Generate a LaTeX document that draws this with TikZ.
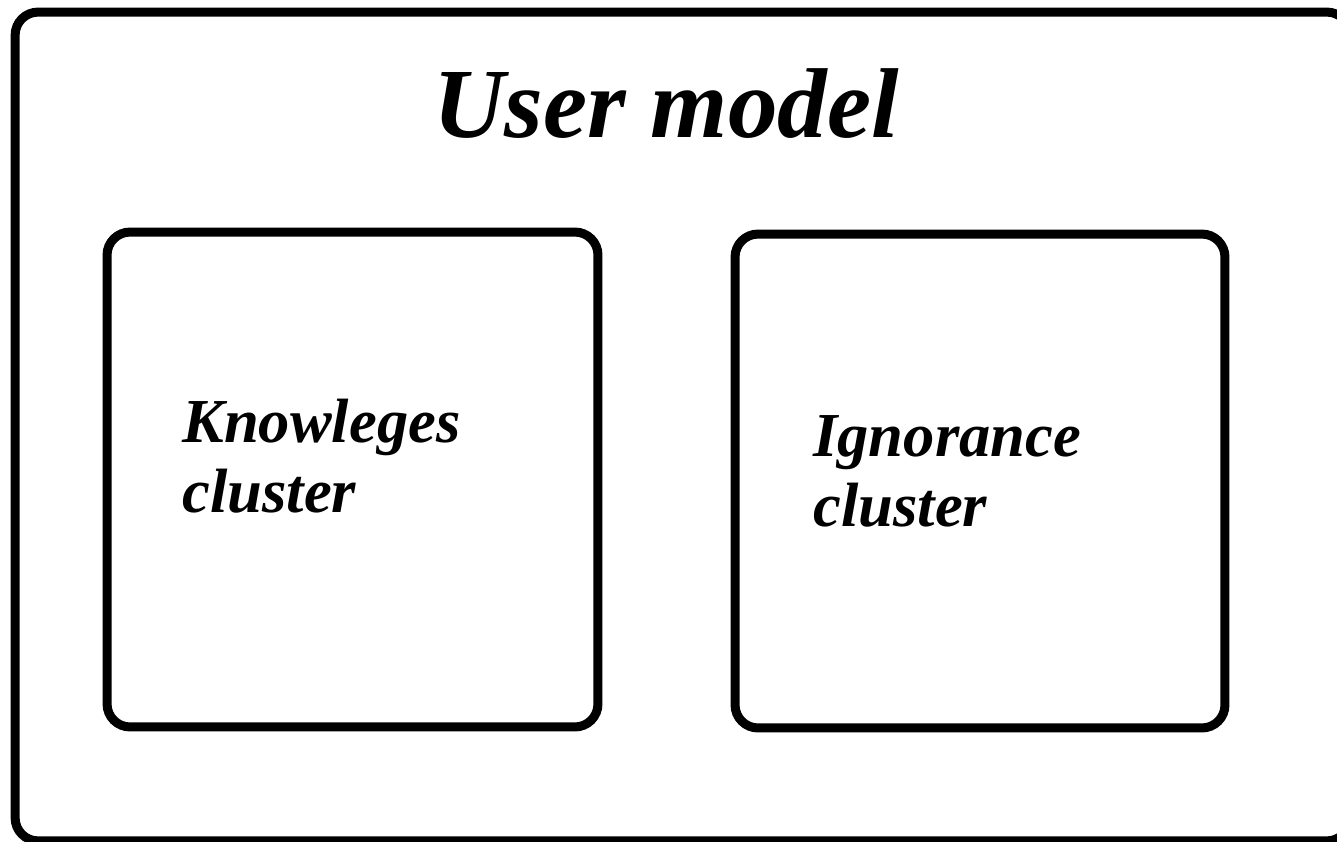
\documentclass[tikz,border=0pt]{standalone}
\usepackage{fontspec}
\setmainfont{Liberation Serif}
\usetikzlibrary{positioning}

\begin{document}
\begin{tikzpicture}[x=0.02cm,y=-0.02cm]
        \tikzstyle{cluster}=[rectangle,draw,line width=0.18cm,rounded corners=0.46cm,inner sep=0pt]
        \tikzstyle{label}=[inner sep=0pt,anchor=base west,align=left,font=\bfseries\itshape\fontsize{35.6}{39.8}\selectfont]
        \clip (0,0) rectangle (1337,841);
        \node[cluster,minimum width=26.7cm,minimum height=16.58cm] (usermodel) at (682.5,426.5) {};
        \node[inner sep=0pt,anchor=base,font=\bfseries\itshape\fontsize{56.5}{60}\selectfont] (title) at (666,138) {User model};
        \node[cluster,minimum width=9.82cm,minimum height=9.9cm] (knowbox) at (352.5,479.5) {};
        \node[cluster,minimum width=9.8cm,minimum height=9.88cm] (ignorbox) at (980,481) {};
        % base anchor sits on the last line
        \node[label] (knowtext) at (182,512) {Knowleges\\cluster};
        \node[label] (ignortext) at (813,526) {Ignorance\\cluster};
\end{tikzpicture}
\end{document}
